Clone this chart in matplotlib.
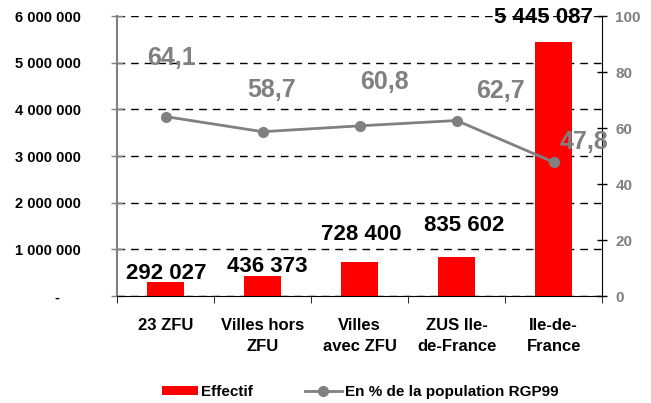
"""
Effectif et part de la population (RGP99) par type de territoire
"""

import matplotlib.pyplot as plt
from matplotlib.ticker import FuncFormatter, FixedLocator

plt.rcParams['font.family'] = ['Liberation Sans', 'DejaVu Sans']
plt.rcParams['font.weight'] = 'bold'

# data
categories = ['23 ZFU', 'Villes hors\nZFU', 'Villes\navec ZFU', 'ZUS Ile-\nde-France', 'Ile-de-\nFrance']
effectif = [292027, 436373, 728400, 835602, 5445087]
part_pop = [64.1, 58.7, 60.8, 62.7, 47.8]

# label offsets (pixels)
bar_label_offsets = [(1, 9), (5, 9), (2, 28), (8, 32), (-10, 25)]
line_label_offsets = [(6, 59), (9, 42), (25, 44), (44, 30), (30, 20)]

GREY = '#808080'


def fr_int(v):
    return f"{v:,}".replace(',', ' ')


fig = plt.figure(figsize=(6.51, 4.03), dpi=100)
ax = fig.add_axes([0.18, 0.2655, 0.745, 0.6945])
ax2 = ax.twinx()

x = list(range(len(categories)))

# bars
ax.bar(x, effectif, width=0.38, color='#FF0000', zorder=2, label='Effectif')
ax.set_ylim(0, 6000000)
ax.set_xlim(-0.5, len(categories) - 0.5)
ax.set_axisbelow(True)
ax.yaxis.grid(True, color='black', linestyle=(0, (5.5, 4.3)), linewidth=1)

for xi, v, (dx, dy) in zip(x, effectif, bar_label_offsets):
    ax.annotate(fr_int(v), (xi, v), xytext=(dx, dy), textcoords='offset pixels',
                ha='center', va='center', fontsize=16, fontweight='bold', color='black')

# line on secondary axis
ax2.plot(x, part_pop, color=GREY, linewidth=2, marker='o', markersize=7,
         label='En % de la population RGP99')
ax2.set_ylim(0, 100)
ax2.set_yticks([0, 20, 40, 60, 80, 100])

for xi, v, (dx, dy) in zip(x, part_pop, line_label_offsets):
    ax2.annotate(f"{v:.1f}".replace('.', ','), (xi, v), xytext=(dx, dy),
                 textcoords='offset pixels', ha='center', va='center',
                 fontsize=18, fontweight='bold', color=GREY)

# left axis
ax.yaxis.set_major_formatter(FuncFormatter(lambda v, p: '-     ' if v == 0 else fr_int(int(v))))
ax.tick_params(axis='y', direction='inout', length=8, width=1, color=GREY,
               labelsize=10.5, pad=22)

# category axis
ax.set_xticks(x)
ax.set_xticklabels(categories, fontsize=12, fontweight='bold', linespacing=1.5)
ax.tick_params(axis='x', which='major', length=0, pad=16)
ax.xaxis.set_minor_locator(FixedLocator([i - 0.5 for i in range(len(categories) + 1)]))
ax.tick_params(axis='x', which='minor', direction='out', length=5, color='black')

# right axis
ax2.tick_params(axis='y', direction='inout', length=7, width=1, color='black',
                labelsize=11, labelcolor=GREY, pad=6)
for t in ax2.yaxis.get_major_ticks():
    t.label2.set_fontweight('bold')

for a in (ax, ax2):
    a.spines['top'].set_visible(False)
ax.spines['left'].set_color(GREY)
ax.spines['left'].set_linewidth(1.5)
ax.spines['bottom'].set_color('black')
ax2.spines['left'].set_visible(False)
ax2.spines['bottom'].set_visible(False)
ax2.spines['right'].set_color('black')
ax.spines['right'].set_visible(False)

# legend
h1, l1 = ax.get_legend_handles_labels()
h2, l2 = ax2.get_legend_handles_labels()
fig.legend(h1 + h2, l1 + l2, loc='center', bbox_to_anchor=(0.553, 0.027), ncol=2,
           frameon=False, prop={'size': 11, 'weight': 'bold'},
           handlelength=2.4, handleheight=0.5, columnspacing=3.4, handletextpad=0.2)

fig.savefig('out.png', dpi=100)
